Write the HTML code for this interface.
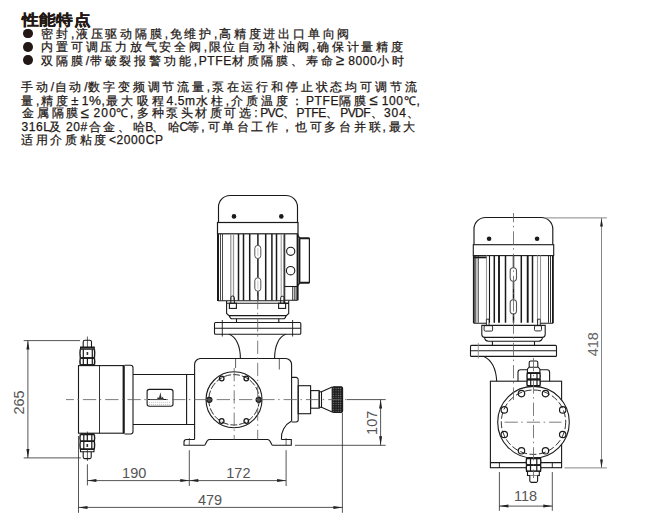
<!DOCTYPE html>
<html><head><meta charset="utf-8"><title>性能特点</title>
<style>
html,body{margin:0;padding:0;background:#fff;width:663px;height:521px;overflow:hidden}
body{position:relative;font-family:"Liberation Sans",sans-serif;color:#231815}
.ln{position:absolute;white-space:nowrap;font-size:12px;line-height:14px;-webkit-text-stroke:0.25px #231815}
.ln i{font-style:normal;display:inline-block;width:var(--a);text-align:left;overflow:visible}
.ln .la{font-size:12px;letter-spacing:0.6px}
.sg{position:absolute;top:0}
svg{position:absolute;left:0;top:0}

.t1{font-size:16.5px;font-weight:900;-webkit-text-stroke:0.45px #231815;line-height:20px;transform:scaleY(0.9);transform-origin:0 0}
.bul{position:absolute;width:9.4px;height:9.8px;border-radius:50%;background:#231815}

</style></head><body>
<div class="ln t1" style="left:22px;top:10.5px;--a:17.2px;"><i>性</i><i>能</i><i>特</i><i>点</i></div>
<div class="ln b" style="left:41.3px;top:27px;--a:14.8px;"><i>密</i><i>封</i><i style="width:5px;">,</i><i>液</i><i>压</i><i>驱</i><i>动</i><i>隔</i><i>膜</i><i style="width:5px;">,</i><i>免</i><i>维</i><i>护</i><i style="width:5px;">,</i><i>高</i><i>精</i><i>度</i><i>进</i><i>出</i><i>口</i><i>单</i><i>向</i><i>阀</i></div>
<div class="bul" style="left:23.3px;top:28.6px"></div>
<div class="ln b" style="left:41.3px;top:40px;--a:14.78px;"><i>内</i><i>置</i><i>可</i><i>调</i><i>压</i><i>力</i><i>放</i><i>气</i><i>安</i><i>全</i><i>阀</i><i style="width:5px;">,</i><i>限</i><i>位</i><i>自</i><i>动</i><i>补</i><i>油</i><i>阀</i><i style="width:5px;">,</i><i>确</i><i>保</i><i>计</i><i>量</i><i>精</i><i>度</i></div>
<div class="bul" style="left:23.3px;top:41.8px"></div>
<div class="ln b" style="left:41.3px;top:53px;--a:14.85px;"><i>双</i><i>隔</i><i>膜</i><span class="la">/</span><i>带</i><i>破</i><i>裂</i><i>报</i><i>警</i><i>功</i><i>能</i><i style="width:5px;">,</i><span class="la">PTFE</span><i>材</i><i>质</i><i>隔</i><i>膜</i><i>、</i><i>寿</i><i>命</i><i style="width:12.5px;font-size:15px;">≥</i><span class="la">8000</span><i>小</i><i>时</i></div>
<div class="bul" style="left:23.3px;top:55.0px"></div>
<div class="ln p" style="left:21px;top:80.0px;--a:14.84px;"><i>手</i><i>动</i><span class="la">/</span><i>自</i><i>动</i><span class="la">/</span><i>数</i><i>字</i><i>变</i><i>频</i><i>调</i><i>节</i><i>流</i><i>量</i><i style="width:5px;">,</i><i>泵</i><i>在</i><i>运</i><i>行</i><i>和</i><i>停</i><i>止</i><i>状</i><i>态</i><i>均</i><i>可</i><i>调</i><i>节</i><i>流</i></div>
<div class="ln p" style="left:21px;top:93.2px;--a:15.06px;"><i>量</i><i style="width:5px;">,</i><i>精</i><i>度</i><i style="width:10.5px;font-size:13px;">±</i><span class="la">1</span><i style="width:12.5px;font-size:13.5px;">%</i><i style="width:5px;">,</i><i>最</i><i>大</i><i>吸</i><i>程</i><span class="la">4.5m</span><i>水</i><i>柱</i><i style="width:5px;">,</i><i>介</i><i>质</i><i>温</i><i>度</i><i>：</i><span class="la">PTFE</span><i>隔</i><i>膜</i><i style="width:12.5px;font-size:15px;">≤</i><span class="la">100</span><i style="width:13px;">℃</i><i style="width:5px;">,</i></div>
<div class="ln p" style="left:0;top:106.4px"><span class="sg" style="left:22.1px;--a:14.8px"><i>金</i><i>属</i><i>隔</i><i>膜</i></span><span class="sg" style="left:80.6px;--a:12.5px"><i style="width:12.5px;font-size:15px;">≤</i></span><span class="sg" style="left:93.6px;--a:7px"><span class="la" style="letter-spacing:1.1px">200</span></span><span class="sg" style="left:115.5px;--a:13px"><i style="width:13px;">℃</i></span><span class="sg" style="left:129.9px;--a:6px"><i style="width:5px;">,</i></span><span class="sg" style="left:137.3px;--a:14.53px"><i>多</i><i>种</i><i>泵</i><i>头</i><i>材</i><i>质</i><i>可</i><i>选</i></span><span class="sg" style="left:254.3px;--a:6px"><i style="width:5px;">:</i></span><span class="sg" style="left:260.2px;--a:7px"><span class="la" style="letter-spacing:-0.6px">PVC</span></span><span class="sg" style="left:283px;--a:11px"><i>、</i></span><span class="sg" style="left:296.5px;--a:7px"><span class="la" style="letter-spacing:-0.3px">PTFE</span></span><span class="sg" style="left:326.4px;--a:11px"><i>、</i></span><span class="sg" style="left:340.3px;--a:7px"><span class="la" style="letter-spacing:-0.6px">PVDF</span></span><span class="sg" style="left:370.6px;--a:9px"><i>、</i></span><span class="sg" style="left:383.9px;--a:7px"><span class="la" style="letter-spacing:1.0px">304</span></span><span class="sg" style="left:406.7px;--a:11px"><i>、</i></span></div>
<div class="ln p" style="left:0;top:119.6px"><span class="sg" style="left:21.5px;--a:7px"><span class="la">316L</span></span><span class="sg" style="left:49px;--a:12px"><i>及</i></span><span class="sg" style="left:65.9px;--a:7px"><span class="la">20#</span></span><span class="sg" style="left:88.6px;--a:14.9px"><i>合</i><i>金</i></span><span class="sg" style="left:118.3px;--a:13px"><i>、</i></span><span class="sg" style="left:132.8px;--a:12px"><i>哈</i></span><span class="sg" style="left:145.3px;--a:7px"><span class="la">B</span></span><span class="sg" style="left:151.7px;--a:13px"><i>、</i></span><span class="sg" style="left:167.7px;--a:11px"><i>哈</i></span><span class="sg" style="left:179.4px;--a:7px"><span class="la">C</span></span><span class="sg" style="left:187.3px;--a:13px"><i>等</i></span><span class="sg" style="left:201.2px;--a:8px"><i style="width:5px;">,</i></span><span class="sg" style="left:207.7px;--a:14.5px"><i>可</i><i>单</i><i>台</i><i>工</i><i>作</i></span><span class="sg" style="left:281.2px;--a:13px"><i>，</i></span><span class="sg" style="left:294.8px;--a:14.84px"><i>也</i><i>可</i><i>多</i><i>台</i><i>并</i><i>联</i></span><span class="sg" style="left:382.4px;--a:6px"><i style="width:5px;">,</i></span><span class="sg" style="left:388.6px;--a:14.5px"><i>最</i><i>大</i></span></div>
<div class="ln p" style="left:21px;top:132.8px;--a:14.67px;"><i>适</i><i>用</i><i>介</i><i>质</i><i>粘</i><i>度</i><span class="la">&lt;2000CP</span></div>
<svg width="663" height="521" viewBox="0 0 663 521">
<defs>
<pattern id="knurl" x="332.6" y="387.4" width="2.3" height="2.3" patternUnits="userSpaceOnUse">
<rect width="2.3" height="2.3" fill="#1c1c1c"/><circle cx="1.15" cy="1.15" r="0.6" fill="#8a8a8a"/>
</pattern>
</defs>
<g fill="none" stroke="#1a1a1a" stroke-width="1.1">
<!-- ===== LEFT VIEW: MOTOR ===== -->
<path d="M218.5,222.5 V207 A11.5,11.5 0 0 1 230,195.5 H286 A11.5,11.5 0 0 1 297.5,207 V222.5" stroke-width="1.15"/>
<rect x="217.5" y="222.5" width="80.5" height="11.3" stroke-width="1.2"/>
<circle cx="234" cy="216.4" r="2.3" fill="#1a1a1a" stroke="none"/>
<circle cx="281.3" cy="216.4" r="2.3" fill="#1a1a1a" stroke="none"/>
<path d="M218,234 V301" stroke-width="2"/>
<path d="M220.5,234V300.5M222.5,234V300.5" stroke-width="0.8"/>
<path d="M230.8,234V300.5M233.5,234V300.5" stroke="#999" stroke-width="1.3"/>
<path d="M238.5,234V300.5M243.5,234V300.5M249.7,234V300.5M265.7,234V300.5M271.9,234V300.5M276.5,234V300.5" stroke-width="1.5"/>
<path d="M257.9,234V245.5M257.9,258.5V277.8M257.9,291.2V300.5" stroke-width="1.5"/>
<rect x="254.8" y="245.4" width="6" height="13.1" rx="3" stroke="#555" stroke-width="1"/>
<rect x="254.8" y="277.8" width="6" height="13.4" rx="3" stroke="#555" stroke-width="1"/>
<path d="M257.9,248V256M257.9,280.5V289" stroke="#bbb" stroke-width="0.8"/>
<path d="M281.2,234V297M283.5,234V297" stroke="#888" stroke-width="0.9"/>
<!-- terminal box -->
<path d="M284.7,234V300.3H297.5" />
<path d="M284.7,286.5H297.5"/>
<path d="M292.6,286.5V300.3M294.3,286.5V300.3M296,286.5V300.3" stroke-width="0.8"/>
<path d="M297.6,234V300.3" stroke-width="2"/>
<circle cx="290.7" cy="251.3" r="4.1"/>
<circle cx="290.6" cy="270.7" r="4.2"/>
<!-- side cover protrusion -->
<path d="M297.8,235.5 L300,238.3 M297.8,285.6 L300,282.7" stroke-width="1.3"/>
<path d="M299.5,238.3H309.4M299.5,282.7H309.4" stroke-width="2"/>
<path d="M309.4,238V283" stroke-width="1.2"/>
<path d="M299.6,238.3V282.7" stroke-width="1.6"/>
<!-- body bottom -->
<path d="M218,300.8H284.7M284.7,300.3V303.4H288.7"/>
<path d="M226.6,300.8 V313.5 L229,315.6 H286.3 L288.7,313.5 V300.8"/><path d="M226.6,303.2H288.7"/>
<path d="M229.3,315.6 Q230,318.8 232.5,318.8 H283 Q285.5,318.8 286,315.6"/>
<path d="M236.5,318.8V322.7M278.8,318.8V322.7"/>
<!-- foot bolts -->
<path d="M230.8,303.2V297.8 A1.8,1.8 0 0 1 234.4,297.8 V303.2M280.7,303.2V297.8 A1.6,1.6 0 0 1 283.9,297.8 V303.2" stroke-width="1"/>
<rect x="229.4" y="303.2" width="7" height="5.2" stroke-width="1.1"/>
<rect x="278.6" y="303.2" width="7" height="5.2" stroke-width="1.1"/>
<!-- flange -->
<rect x="214.5" y="322.5" width="86.3" height="11.8" rx="1"/>
<path d="M214.5,328.2H300.8"/>
<path d="M222.3,320V336.5M292.6,320V336.5" stroke-width="0.9"/>
<!-- neck curves -->
<path d="M229,334.3 C235.5,336.5 240.4,345 240.4,358.5"/>
<path d="M285.8,334.3 C279.3,336.5 274.6,345 274.6,358.5"/>
<!-- ===== PUMP HOUSING ===== -->
<path d="M194.6,439.5 V364.5 A6,6 0 0 1 200.6,358.5 H285.6 A6,6 0 0 1 291.6,364.5 V421"/>
<path d="M291.6,421 A19,19 0 0 0 281.4,439.5"/>
<path d="M194.6,439.5 H186.5 A2.5,2.5 0 0 0 184,442 V445.3 H204.4 C206,445.3 206,439.5 209.5,439.5 H267.5 C271,439.5 271,445.3 272.6,445.3 H291.3 V439.5 H281.4"/>
<!-- pump head -->
<circle cx="234" cy="399.8" r="28"/>
<circle cx="234" cy="399.8" r="25.2" stroke-dasharray="7 2" stroke-width="0.9"/>
<g stroke-width="1.3">
<circle cx="221.7" cy="378.5" r="2.3"/><circle cx="246.3" cy="378.5" r="2.3"/>
<circle cx="221.7" cy="421" r="2.3"/><circle cx="246.3" cy="421" r="2.3"/>
<circle cx="209.3" cy="399.8" r="2.5" fill="#555"/><circle cx="258.7" cy="399.8" r="2.5" fill="#555"/>
</g>
<!-- valve on right -->
<path d="M291.6,377.4 H296 A2.2,2.2 0 0 1 298.2,379.6 V419.8 A2.2,2.2 0 0 1 296,422 H291.6"/>
<rect x="298.2" y="385.7" width="12.4" height="28"/>
<rect x="310.6" y="390.6" width="8.6" height="17.6"/>
<rect x="319.2" y="391.8" width="2.3" height="15.5"/>
<path d="M321.5,391.8 L332.2,387.1 M321.5,407.3 L332.2,412"/>
<rect x="332.2" y="386.8" width="10.4" height="25.6" rx="1.5" fill="url(#knurl)" stroke="#1a1a1a"/>
<!-- ===== HYDRAULIC END ===== -->
<rect x="78.5" y="365.6" width="45.4" height="67.6"/>
<path d="M99.5,365.6V433.2" stroke-width="0.9"/>
<path d="M123.6,365.6V433.4" stroke-width="2"/>
<path d="M124.5,365.2 H130.5 A2.5,2.5 0 0 1 133,367.7 V431.5 A2.5,2.5 0 0 1 130.5,434 H124.5"/>
<path d="M133,374.5 H194.6 M133,424.5 H194.6 M186.6,374.5 V424.5"/>
<rect x="147.1" y="389.4" width="25.9" height="16.9" rx="2.2"/>
<path d="M148,399.5H166.5" stroke-width="1"/>
<path d="M149,402.4H171M149,404.5H171" stroke="#aaa" stroke-width="0.6" stroke-dasharray="1.2 0.8"/>
<path d="M157,399.8 L157.8,397 L159,398 L160.4,392.3 L161.6,398 L162.8,396.8 L164,399.8 Z" fill="#333" stroke="none"/>
<!-- top nuts -->
<g stroke-width="1.1">
<path d="M83.2,347.1 V342 A1.7,1.7 0 0 1 84.9,340.3 H89.8 A1.7,1.7 0 0 1 91.5,342 V347.1"/>
<path d="M80.6,349.2 V347.1 H94.2 V349.2"/>
<path d="M80.3,349.2 Q79.6,353.5 80.3,357.9 M94.4,349.2 Q95.1,353.5 94.4,357.9" stroke-width="1.4"/>
<path d="M83.3,349.2V357.9M92.3,349.2V357.9" stroke-width="1.2"/>
<path d="M80.3,358.1 Q79.6,361.5 80.3,364.8 M94.4,358.1 Q95.1,361.5 94.4,364.8" stroke-width="1.4"/>
<path d="M83.3,358.1V364.8M87.4,358.1V364.8M92.3,358.1V364.8" stroke-width="1.2"/>
<rect x="86.6" y="352" width="1.6" height="3" fill="#333" stroke="none"/>
</g>
<path d="M80.3,347.6H94.4M80.3,349.2H94.4" stroke-width="1.2"/>
<path d="M80.3,358H94.4" stroke-width="1.9"/>
<path d="M80.3,365H94.4" stroke-width="1.9"/>
<!-- bottom nuts -->
<g stroke-width="1.1">
<path d="M80.3,434.3 Q79.6,437.7 80.3,441.1 M94.3,434.3 Q95,437.7 94.3,441.1" stroke-width="1.4"/>
<path d="M83.8,434.3V441.1M87.3,434.3V441.1M91.8,434.3V441.1" stroke-width="1.2"/>
<path d="M80.3,441.1 Q79.6,445.1 80.3,449.1 M94.3,441.1 Q95,445.1 94.3,449.1" stroke-width="1.4"/>
<path d="M83.8,441.1V449.1M91.8,441.1V449.1" stroke-width="1.2"/>
<rect x="86.5" y="444" width="1.6" height="3" fill="#333" stroke="none"/>
<path d="M80.5,449.1 V451.8 H94 V449.1"/>
<path d="M83.2,451.8 V457 A1.6,1.6 0 0 0 84.8,458.6 H89.6 A1.6,1.6 0 0 0 91.2,457 V451.8"/>
</g>
<path d="M80.3,434.2H94.3M80.3,441.1H94.3M80.3,449.1H94.3" stroke-width="1.9"/>
<path d="M87.4,336.5V348M87.4,431.5V436M87.4,450V461" stroke-width="0.7"/>
</g>
<!-- ===== RIGHT VIEW ===== -->
<g fill="none" stroke="#1a1a1a" stroke-width="1.1">
<path d="M474,244.7 V229 A11.5,11.5 0 0 1 485.5,217.5 H541.3 A11.5,11.5 0 0 1 552.8,229 V244.7" stroke-width="1.15"/>
<rect x="473.3" y="244.7" width="80.4" height="10.9"/>
<circle cx="489.1" cy="238.7" r="2.3" fill="#1a1a1a" stroke="none"/>
<circle cx="537.1" cy="238.7" r="2.3" fill="#1a1a1a" stroke="none"/>
<path d="M473.8,255.6V323.2M552.9,255.6V323.2" stroke-width="1.8"/>
<path d="M475.8,255.6V322.7M478.2,255.6V322.7M548.5,255.6V322.7M550.5,255.6V322.7" stroke-width="0.9"/>
<path d="M486.5,255.6V319M540.5,255.6V319M537.5,255.6V322.7" stroke="#999" stroke-width="1.1"/>
<path d="M489.5,255.6V322.7" stroke-width="1.1"/>
<path d="M494.3,255.6V322.7M505.5,255.6V322.7M521.3,255.6V322.7M532.5,255.6V322.7" stroke-width="1.5"/><path d="M499,255.6V322.7M527.7,255.6V322.7" stroke-width="1.9"/>
<path d="M513.5,255.6V267.7M513.5,281.2V299.8M513.5,313.8V322.7" stroke-width="1.5"/>
<rect x="510.2" y="267.7" width="6.3" height="13.5" rx="3.1" stroke="#555"/>
<rect x="510.2" y="299.8" width="6.3" height="14" rx="3.1" stroke="#555"/>
<path d="M473.8,257.4H486.4" stroke-width="1.8"/>
<path d="M473.8,323.2H486.4M540.3,323.2H552.9"/>
<!-- adapter -->
<path d="M481.8,325.4 H545.2 V334.5 A3,3 0 0 1 542.2,337.4 H484.8 A3,3 0 0 1 481.8,334.5 Z"/>
<path d="M484.5,337.4 Q485,341.2 488.5,341.2 H538.5 Q542,341.2 542.5,337.4"/>
<path d="M492.4,341.2V345.4M534.5,341.2V345.4"/>
<path d="M486.4,325.4V319.2H489.1V325.4M537.6,325.4V319.2H540.3V325.4" stroke-width="0.9"/>
<rect x="484.1" y="325.7" width="8.5" height="5.4" rx="1.2" stroke-width="0.9"/>
<rect x="534.5" y="325.7" width="7" height="5.2" rx="1.2" stroke-width="0.9"/>
<!-- flange -->
<rect x="470.5" y="345.4" width="86" height="11" rx="1"/>
<path d="M470.5,350.7H556.5"/>
<path d="M478.3,343V358.5" stroke="#888" stroke-width="0.9"/>
<!-- neck curve -->
<path d="M483.9,356.6 C491,360 496,368 496.7,381.2"/>
<!-- housing -->
<rect x="490.4" y="381.2" width="71.2" height="86.5"/>
<path d="M490.4,462.6H561.6"/>
<path d="M499.4,462.6V468 M552.3,462.6V468" stroke-width="0.9"/>
<path d="M518,381.2 V372.2 A2.5,2.5 0 0 1 520.5,369.7 H547.1 A2.5,2.5 0 0 1 549.6,372.2 V381.2"/>
<circle cx="533.5" cy="422.2" r="35.8" fill="#fff"/>
<circle cx="533.5" cy="422.2" r="32.2" stroke-dasharray="7 2.5" stroke-width="0.9"/>
<g stroke-width="1.2">
<circle cx="521.5" cy="393.6" r="3.2"/><circle cx="545.5" cy="393.6" r="3.2"/>
<circle cx="504.3" cy="409.9" r="3.2"/><circle cx="562.7" cy="409.9" r="3.2"/>
<circle cx="504.3" cy="434.5" r="3.2"/><circle cx="562.7" cy="434.5" r="3.2"/>
<circle cx="521.5" cy="450.8" r="3.2"/><circle cx="545.5" cy="450.8" r="3.2"/>
</g>
<!-- top valve nuts -->
<g stroke-width="1.1" fill="#fff">
<path d="M529.2,367.2 V362.6 A1.6,1.6 0 0 1 530.8,361 H536.2 A1.6,1.6 0 0 1 537.8,362.6 V367.2"/>
<path d="M527.4,373.1 V369.2 L529,367.2 H538.2 L539.9,369.2 V373.1 Z"/>
<path d="M527.3,373.1 Q526.6,376.3 527.3,379.5 H539.9 Q540.6,376.3 539.9,373.1 Z" stroke-width="1.4"/>
<path d="M527.3,379.5 Q526.6,382.7 527.3,385.9 H539.9 Q540.6,382.7 539.9,379.5 Z" stroke-width="1.4"/>
<path d="M530.7,373.1V385.9M537,373.1V385.9" stroke-width="1.2" fill="none"/>
</g>
<path d="M527.3,373.1H539.9M527.3,379.5H539.9M527.3,385.9H539.9" stroke-width="1.9"/>
<!-- bottom nuts -->
<g stroke-width="1.1" fill="#fff">
<path d="M526.6,458.2 Q525.9,461.6 526.6,465.1 H540.5 Q541.2,461.6 540.5,458.2 Z" stroke-width="1.4"/>
<path d="M526.6,465.1 Q525.9,468.2 526.6,471.3 H540.5 Q541.2,468.2 540.5,465.1 Z" stroke-width="1.4"/>
<path d="M530.5,458.2V471.3M536.8,458.2V471.3" stroke-width="1.2" fill="none"/>
<rect x="527.5" y="471.3" width="11.8" height="4.2"/>
<path d="M529.8,475.5 V480.8 A1.6,1.6 0 0 0 531.4,482.4 H536 A1.6,1.6 0 0 0 537.6,480.8 V475.5"/>
</g>
<path d="M526.6,458.2H540.5M526.6,465.1H540.5" stroke-width="1.9"/>
</g>
<g fill="none" stroke="#2a2a2a" stroke-width="0.8">
<path d="M499.4,472V510.8M552.3,472V510.8"/>
<path d="M499.4,506.1H552.3"/>
</g>
<g fill="none" stroke="#888" stroke-width="1">
<path d="M545,217.9H606.8 M564.5,467.9H606.8"/>
<path d="M601.5,217.9V467.9"/>
</g>
<g fill="#222" stroke="none">
<path d="M499.4,506.1 l9,-1.5 v3z M552.3,506.1 l-9,-1.5 v3z"/>
<path d="M601.5,217.9 l-1.4,8.5 h2.8z M601.5,467.9 l-1.4,-8.5 h2.8z"/>
</g>
<!-- ===== centerlines ===== -->
<g fill="none" stroke="#666" stroke-width="0.85" stroke-dasharray="13.3 3.5 1.5 4">
<path d="M66,399.6H346" stroke-dashoffset="5.4"/>
<path d="M257.7,296V439.5"/>
<path d="M234.2,368V439.5"/>
<path d="M513.5,213V400" stroke-dashoffset="4"/>
<path d="M502.5,422.2H561.5" stroke-dashoffset="-2"/>
<path d="M533.5,358V478"/>
</g>
<path d="M235.6,359V368M279.3,359V369.5" stroke="#333" stroke-width="0.8"/>
<!-- ===== dimensions ===== -->
<g fill="none" stroke="#2a2a2a" stroke-width="0.8">
<path d="M23.7,340.6H80 M23.7,457.9H80.8"/>
<path d="M27.9,340.6V457.9"/>
<path d="M78.5,436V512.8"/>
<path d="M87.4,464.3V485.4 M189.3,450.2V486 M286.1,450.2V486 M342.4,413V512.8"/><path d="M189.3,438V445.3M286.1,438V445.3" stroke-width="0.7"/>
<path d="M87.4,480.6H286.1"/>
<path d="M78.5,507.4H342.4"/>
<path d="M346.5,399.6H385.7 M295,445.3H385.7"/>
<path d="M380.6,399.6V445.3"/>
</g>
<g fill="#222" stroke="none">
<!-- arrows -->
<path d="M27.9,340.6 l-1.5,9 h3z M27.9,457.9 l-1.5,-9 h3z"/>
<path d="M87.4,480.6 l9,-1.5 v3z M189.3,480.6 l-9,-1.5 v3z M189.3,480.6 l9,-1.5 v3z M286.1,480.6 l-9,-1.5 v3z"/>
<path d="M78.5,507.4 l9,-1.5 v3z M342.4,507.4 l-9,-1.5 v3z"/>
<path d="M380.6,399.6 l-1.5,9 h3z M380.6,445.3 l-1.5,-9 h3z"/>
</g>
<g style="font-family:'Liberation Sans',sans-serif;font-size:14.5px" fill="#555">
<text x="134.2" y="477.6" text-anchor="middle">190</text>
<text x="238.4" y="477.5" text-anchor="middle">172</text>
<text x="210.1" y="504.6" text-anchor="middle">479</text>
<text x="525.5" y="501.4" text-anchor="middle">118</text>
<text transform="translate(24.4,402.5) rotate(-90)" text-anchor="middle">265</text>
<text transform="translate(376.5,422.8) rotate(-90)" text-anchor="middle">107</text>
<text transform="translate(598,344.2) rotate(-90)" text-anchor="middle" fill="#666">418</text>
</g>
</svg>

</body></html>
